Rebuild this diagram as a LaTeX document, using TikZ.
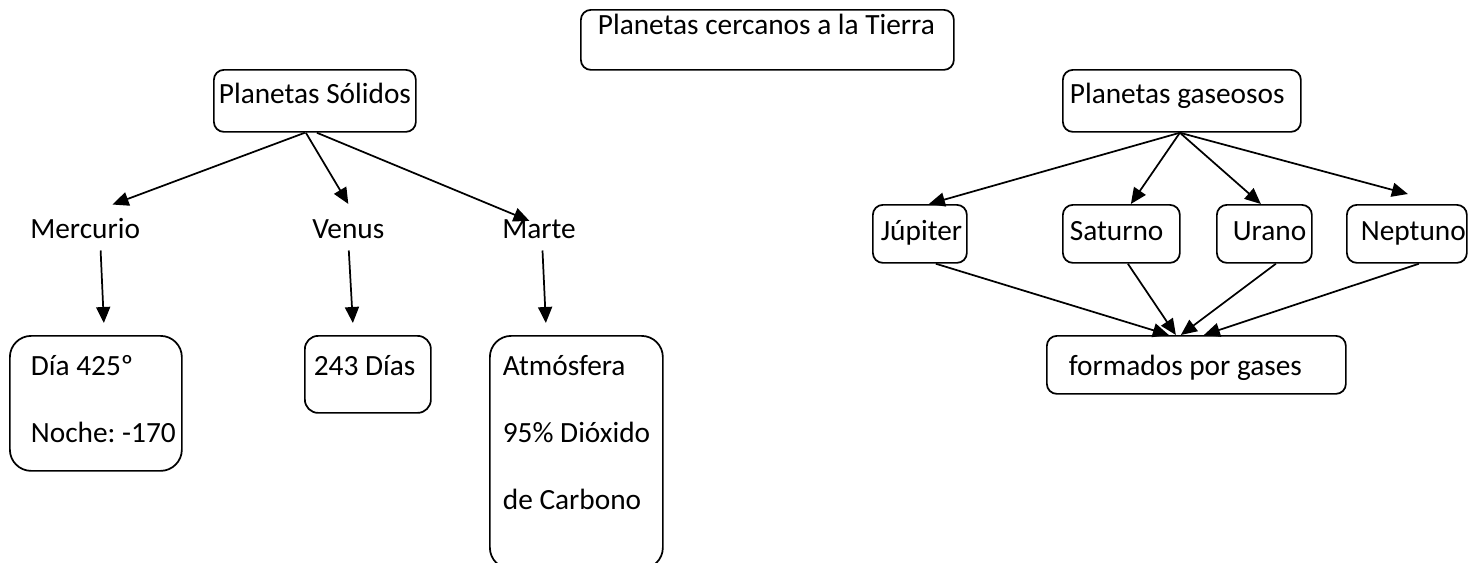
\documentclass[tikz,border=0pt]{standalone}
\usepackage{fontspec}
\setmainfont{Carlito}
\usetikzlibrary{arrows.meta,calc}

\begin{document}
\begin{tikzpicture}[x=0.75pt,y=0.75pt,yscale=-1,xscale=1,
        caja/.style={draw, line width=1.3pt, rounded corners=7.5pt, inner sep=0pt, anchor=north west, align=left, font=\fontsize{22}{50}\selectfont},
        sangria/.style={execute at begin node={\leftskip=#1\relax\spaceskip=0pt\xspaceskip=0pt}},
        texto/.style={inner sep=0pt, anchor=base west, font=\fontsize{22}{26}\selectfont},
        flecha/.style={line width=1.3pt, -{Triangle[length=12pt,width=10.5pt]}}]

        \useasboundingbox (0,0) rectangle (1479,562);

        \node[caja, sangria=12.75pt, text width=279.75pt, text height=18.75pt, text depth=26.25pt] (titulo) at (580,9) {Planetas cercanos a la Tierra};

        \node[caja, sangria=3.75pt, text width=151.5pt, text height=25.5pt, text depth=21pt] (solidos) at (213,69) {Planetas Sólidos};
        \node[caja, sangria=5.25pt, text width=178.5pt, text height=25.5pt, text depth=21pt] (gaseosos) at (1062,69) {Planetas gaseosos};

        \node[texto] (mercurio) at (30,238) {Mercurio};
        \node[texto] (venus) at (312,238) {Venus};
        \node[texto] (marte) at (502,238) {Marte};

        \node[caja, rounded corners=16pt, sangria=15.75pt, text width=129pt, text height=30pt, text depth=71.25pt] (dia) at (9,335) {Día 425º\\Noche:~-170};
        \node[caja, rounded corners=10pt, sangria=6.75pt, text width=94.5pt, text height=30pt, text depth=27.75pt] (dias) at (304,335) {243 Días};
        \node[caja, rounded corners=16pt, sangria=9.75pt, text width=129.75pt, text height=30pt, text depth=144.75pt] (atmosfera) at (489,335) {Atmósfera\\95\%~Dióxido\\de Carbono};

        \node[caja, sangria=6pt, text width=70.5pt, text height=27pt, text depth=16.5pt] (jupiter) at (872,204) {Júpiter};
        \node[caja, sangria=5.25pt, text width=87.75pt, text height=27pt, text depth=16.5pt] (saturno) at (1062,204) {Saturno};
        \node[caja, sangria=12pt, text width=71.25pt, text height=27pt, text depth=16.5pt] (urano) at (1216,204) {Urano};
        \node[caja, sangria=10.5pt, text width=90pt, text height=27pt, text depth=16.5pt] (neptuno) at (1346,204) {Neptuno};

        \node[caja, sangria=16.5pt, text width=224.25pt, text height=30pt, text depth=13.5pt] (formados) at (1046,335) {formados por gases};

        \draw[flecha] ($(solidos.south)+(-10,0)$) -- ($(mercurio.north)+(27.5,-13)$);
        \draw[flecha] ($(solidos.south)+(-9,0)$) -- ($(venus.north)+(0,-15)$);
        \draw[flecha] ($(solidos.south)+(2,0)$) -- ($(marte.north)+(-9.5,2)$);

        \draw[flecha] ($(mercurio.south)+(15.5,12)$) -- ($(dia.north)+(8,-12)$);
        \draw[flecha] ($(venus.south)+(0.5,12)$) -- ($(dias.north)+(-15,-12)$);
        \draw[flecha] ($(marte.south)+(3.5,12)$) -- ($(atmosfera.north)+(-30.5,-12)$);

        \draw[flecha] ($(gaseosos.south)+(-2,0)$) -- ($(jupiter.north)+(9,0)$);
        \draw[flecha] ($(gaseosos.south)+(-2,0)$) -- ($(saturno.north)+(9.5,0)$);
        \draw[flecha] ($(gaseosos.south)+(-2,0)$) -- ($(urano.north)+(-3.5,0)$);
        \draw[flecha] ($(gaseosos.south)+(-2,0)$) -- ($(neptuno.north)+(1,-10)$);

        \draw[flecha] ($(jupiter.south)+(16,0)$) -- ($(formados.north)+(-27.5,0)$);
        \draw[flecha] ($(saturno.south)+(6.5,0)$) -- ($(formados.north)+(-20.5,0)$);
        \draw[flecha] ($(urano.south)+(11.5,0)$) -- ($(formados.north)+(-15.5,0)$);
        \draw[flecha] ($(neptuno.south)+(12,0)$) -- ($(formados.north)+(7.5,0)$);

    \end{tikzpicture}
\end{document}
